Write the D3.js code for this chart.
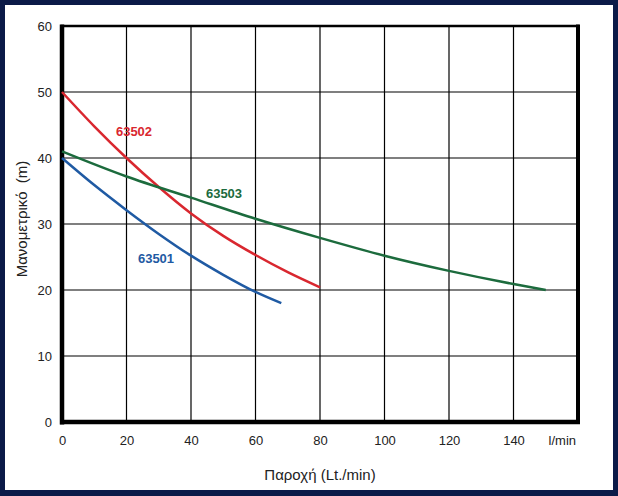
<!DOCTYPE html>
<html><head><meta charset="utf-8">
<script src="https://cdn.jsdelivr.net/npm/d3@7"></script>
<style>
html,body{margin:0;padding:0;background:#fff;}
svg{display:block;font-family:"Liberation Sans",Arial,sans-serif;}
</style></head>
<body><svg id="c" width="618" height="496"></svg>
<script>
const xTicks = [0,20,40,60,80,100,120,140];
const yTicks = [0,10,20,30,40,50,60];
const xUnit = "l/min";
const xTitle = "Παροχή (Lt./min)";
const yTitle = "Μανομετρικό\u00a0 (m)";

const s63501x = [0,10,20,30,40,50,60,68];
const s63501y = [40,35.9,32.1,28.5,25.2,22.3,19.7,18];
const s63502x = [0,10,20,30,40,50,60,70,80];
const s63502y = [50,44.8,40,35.6,31.6,28.2,25.3,22.7,20.4];
const s63503x = [0,20,40,60,80,100,120,140,150];
const s63503y = [41,37.2,34.0,30.8,27.9,25.2,22.9,20.9,20];

const series = [
  {name:"63501", xs:s63501x, ys:s63501y, color:"#1f5aa3", lx:156, ly:263},
  {name:"63502", xs:s63502x, ys:s63502y, color:"#d9272f", lx:134, ly:136},
  {name:"63503", xs:s63503x, ys:s63503y, color:"#1c6b3d", lx:224, ly:198}
];

const svg = d3.select("#c");
const W=618,H=496;
svg.append("rect").attr("x",0).attr("y",0).attr("width",W).attr("height",H).attr("fill","#0b1a48");
svg.append("rect").attr("x",5).attr("y",5).attr("width",W-10).attr("height",H-11).attr("fill","#fff");

const x = d3.scaleLinear().domain([0,160]).range([62,578]);
const y = d3.scaleLinear().domain([0,60]).range([422,26]);

const g = svg.append("g");
g.selectAll(".vg").data(xTicks.slice(1).concat([160])).enter().append("line")
  .attr("x1",d=>x(d)).attr("x2",d=>x(d)).attr("y1",y(60)).attr("y2",y(0))
  .attr("stroke","#000").attr("stroke-width",1.2);
g.selectAll(".hg").data(yTicks.slice(1)).enter().append("line")
  .attr("x1",x(0)).attr("x2",x(160)).attr("y1",d=>y(d)).attr("y2",d=>y(d))
  .attr("stroke","#000").attr("stroke-width",1.2);

g.append("rect").attr("x",x(0)).attr("y",y(60)).attr("width",x(160)-x(0)).attr("height",y(0)-y(60))
  .attr("fill","none").attr("stroke","#000").attr("stroke-width",2.5);
g.append("line").attr("x1",x(0)).attr("x2",x(0)).attr("y1",y(60)-1.5).attr("y2",y(0)+2.5).attr("stroke","#000").attr("stroke-width",4.5);
g.append("line").attr("x1",x(0)-2).attr("x2",x(160)+2).attr("y1",y(0)).attr("y2",y(0)).attr("stroke","#000").attr("stroke-width",4.5);
g.append("line").attr("x1",x(160)).attr("x2",x(160)).attr("y1",y(60)-1.5).attr("y2",y(0)+2).attr("stroke","#000").attr("stroke-width",4);

const xa = d3.axisBottom(x).tickValues(xTicks).tickSize(0).tickPadding(10).tickFormat(d3.format("d"));
const xg = svg.append("g").attr("transform",`translate(0,${y(0)+4})`).call(xa);
xg.select(".domain").remove();
xg.selectAll("text").attr("font-size",13).attr("fill","#222").attr("font-family","Liberation Sans, Arial, sans-serif");
const ya = d3.axisLeft(y).tickValues(yTicks).tickSize(0).tickPadding(8).tickFormat(d3.format("d"));
const yg = svg.append("g").attr("transform",`translate(${x(0)-2},0)`).call(ya);
yg.select(".domain").remove();
yg.selectAll("text").attr("font-size",13).attr("fill","#222").attr("font-family","Liberation Sans, Arial, sans-serif");

svg.append("text").attr("x",576).attr("y",y(0)+23).attr("text-anchor","end")
  .attr("font-size",13).attr("fill","#222").text(xUnit);
svg.append("text").attr("x",320).attr("y",480).attr("text-anchor","middle")
  .attr("font-size",15).attr("fill","#222").text(xTitle);
svg.append("text").attr("transform","translate(27,219) rotate(-90)").attr("text-anchor","middle")
  .attr("font-size",15).attr("fill","#222").text(yTitle);

const line = d3.line().curve(d3.curveMonotoneX);
series.forEach(s=>{
  const pts = s.xs.map((v,i)=>[x(v),y(s.ys[i])]);
  svg.append("path").attr("d",line(pts)).attr("fill","none").attr("stroke",s.color).attr("stroke-width",2.5);
  svg.append("text").attr("x",s.lx).attr("y",s.ly).attr("text-anchor","middle").attr("font-size",13)
    .attr("font-weight","bold").attr("fill",s.color).text(s.name);
});
</script></body></html>
